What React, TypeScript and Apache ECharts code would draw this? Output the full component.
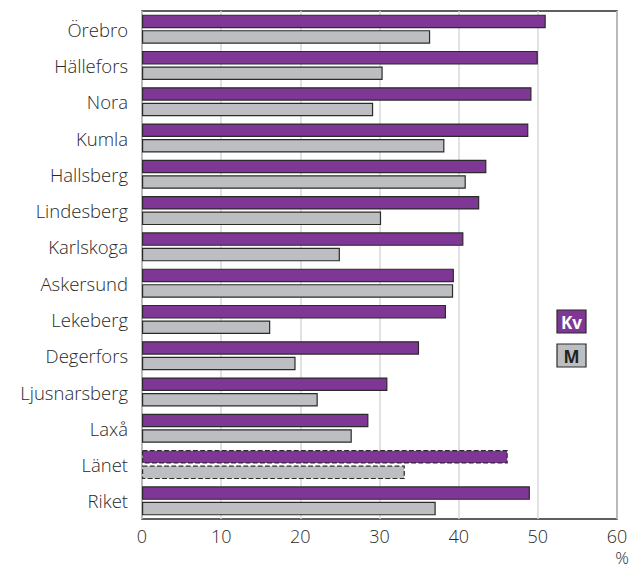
import React, { useEffect, useRef } from "react";
import * as echarts from "echarts";

const categories = [
  "Örebro", "Hällefors", "Nora", "Kumla", "Hallsberg", "Lindesberg", "Karlskoga",
  "Askersund", "Lekeberg", "Degerfors", "Ljusnarsberg", "Laxå", "Länet", "Riket",
];
const kvValues = [51.0, 50.0, 49.2, 48.8, 43.5, 42.6, 40.6, 39.4, 38.4, 35.0, 31.0, 28.6, 46.2, 49.0];
const mValues = [36.4, 30.4, 29.2, 38.2, 40.9, 30.2, 25.0, 39.3, 16.2, 19.4, 22.2, 26.5, 33.2, 37.1];
const xTicks = { min: 0, max: 60, interval: 10 };
const dashedCategory = "Länet";

const PURPLE = "#7f3795";
const GREY = "#bdbec1";
const BORDER = "#2b2b2b";
const TEXT = "#2a2a2a";
const FONT = "'Open Sans', 'DejaVu Sans', sans-serif";

function toData(values: number[]) {
  return values.map((v, i) =>
    categories[i] === dashedCategory
      ? { value: v, itemStyle: { borderType: "dashed" as const } }
      : v
  );
}

export default function App() {
  const ref = useRef<HTMLDivElement>(null);
  useEffect(() => {
    if (!ref.current) return;
    const chart = echarts.init(ref.current, undefined, { renderer: "svg" });
    chart.setOption({
      animation: false,
      grid: {
        left: 142,
        right: 15,
        top: 11,
        bottom: 48,
        show: true,
        borderColor: BORDER,
        borderWidth: 1.5,
        containLabel: false,
      },
      xAxis: {
        type: "value",
        min: xTicks.min,
        max: xTicks.max,
        interval: xTicks.interval,
        axisLine: { show: false },
        axisTick: { show: false },
        splitLine: { show: true, lineStyle: { color: "#d9d9d9", width: 1.5 } },
        axisLabel: { color: TEXT, fontSize: 18, fontWeight: 300, fontFamily: FONT, margin: 8 },
      },
      yAxis: {
        type: "category",
        data: categories,
        inverse: true,
        axisLine: { show: false },
        axisTick: { show: false },
        splitLine: { show: false },
        axisLabel: { color: TEXT, fontSize: 18.5, fontWeight: 300, fontFamily: FONT, margin: 14 },
      },
      series: [
        {
          name: "Kv",
          type: "bar",
          data: toData(kvValues),
          barWidth: 13.5,
          barGap: "15%",
          itemStyle: { color: PURPLE, borderColor: BORDER, borderWidth: 1.2 },
        },
        {
          name: "M",
          type: "bar",
          data: toData(mValues),
          barWidth: 13.5,
          barGap: "15%",
          itemStyle: { color: GREY, borderColor: BORDER, borderWidth: 1.2 },
        },
      ],
      graphic: [
        {
          type: "rect",
          shape: { x: 557, y: 310, width: 29, height: 23 },
          style: { fill: PURPLE, stroke: BORDER, lineWidth: 1.2 },
        },
        {
          type: "text",
          x: 571.5,
          y: 322,
          style: {
            text: "Kv",
            fill: "#ffffff",
            font: `bold 17px ${FONT}`,
            align: "center",
            verticalAlign: "middle",
          },
        },
        {
          type: "rect",
          shape: { x: 557, y: 344, width: 29, height: 23 },
          style: { fill: GREY, stroke: BORDER, lineWidth: 1.2 },
        },
        {
          type: "text",
          x: 571.5,
          y: 356,
          style: {
            text: "M",
            fill: "#222222",
            font: `bold 17px ${FONT}`,
            align: "center",
            verticalAlign: "middle",
          },
        },
        {
          type: "text",
          x: 622,
          y: 557,
          style: {
            text: "%",
            fill: TEXT,
            font: `300 17px ${FONT}`,
            align: "center",
            verticalAlign: "middle",
          },
        },
      ],
    });
    return () => chart.dispose();
  }, []);
  return <div ref={ref} style={{ width: 632, height: 567, position: "absolute", left: 0, top: 0 }} />;
}
